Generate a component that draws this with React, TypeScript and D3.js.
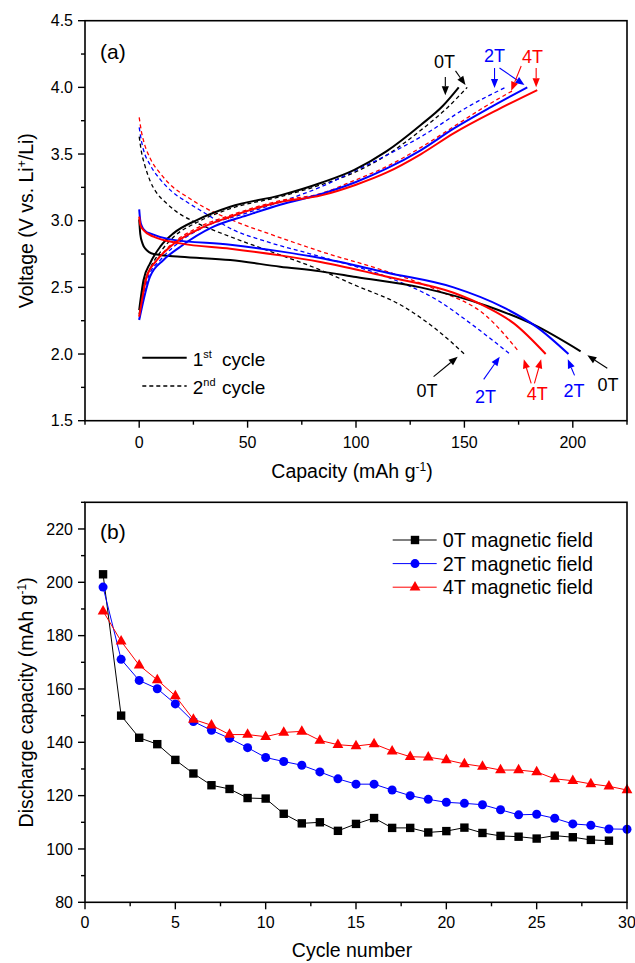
import React from 'react';
import * as d3 from 'd3';

type Pt = [number, number];

// ---- panel (a): capacity (mAh/g) vs voltage (V) ----
// 1st cycle (solid)
const charge0T1: Pt[] = [[0, 2.33], [2, 2.555], [5, 2.68], [9.7, 2.805], [15.8, 2.905], [26.6, 3.005], [42, 3.105], [65, 3.19], [84, 3.285], [99, 3.38], [114, 3.52], [130, 3.72], [140, 3.86], [147.4, 4.0]];
const charge2T1: Pt[] = [[0, 2.255], [5, 2.58], [11.2, 2.705], [19, 2.805], [34.3, 2.955], [49.7, 3.04], [65, 3.12], [84, 3.2], [100, 3.29], [114, 3.39], [130, 3.53], [145, 3.69], [162, 3.85], [179, 4.0]];
const charge4T1: Pt[] = [[0, 2.28], [3.5, 2.58], [8.2, 2.705], [14.3, 2.805], [26.6, 2.93], [42, 3.03], [65, 3.14], [84, 3.19], [100, 3.27], [114, 3.36], [130, 3.5], [145, 3.655], [165, 3.83], [183.6, 3.98]];
const discharge0T1: Pt[] = [[0, 3.01], [0.5, 2.9], [1.5, 2.83], [2.8, 2.79], [6.6, 2.75], [19, 2.73], [42, 2.705], [65, 2.655], [83.6, 2.62], [100, 2.577], [129.7, 2.5], [160.5, 2.36], [182, 2.22], [203.6, 2.02]];
const discharge2T1: Pt[] = [[0, 3.085], [0.5, 3.0], [1.2, 2.96], [3, 2.92], [5, 2.905], [14.3, 2.86], [42, 2.82], [65, 2.77], [83.6, 2.72], [114.4, 2.61], [145, 2.5], [168, 2.35], [183.6, 2.2], [198, 2.0]];
const discharge4T1: Pt[] = [[0, 3.03], [0.5, 2.97], [2, 2.93], [6.6, 2.88], [19, 2.83], [42, 2.79], [65, 2.74], [83.6, 2.69], [114.4, 2.58], [145, 2.46], [160.5, 2.35], [172.8, 2.23], [187.5, 2.0]];
// 2nd cycle (dashed)
const charge0T2: Pt[] = [[0, 2.3], [2, 2.5], [5, 2.64], [10, 2.77], [16, 2.88], [27, 2.99], [42, 3.09], [65, 3.18], [84, 3.27], [99, 3.36], [114, 3.49], [130, 3.68], [141, 3.83], [151.3, 4.0]];
const charge2T2: Pt[] = [[0, 2.26], [4, 2.57], [10, 2.71], [17, 2.82], [31, 2.96], [48, 3.05], [65, 3.14], [84, 3.255], [99, 3.37], [114, 3.49], [130, 3.63], [153, 3.867], [169, 4.0]];
const charge4T2: Pt[] = [[0, 2.28], [3, 2.57], [8, 2.7], [14, 2.81], [26, 2.94], [42, 3.04], [65, 3.15], [84, 3.205], [99, 3.3], [114, 3.405], [130, 3.55], [145, 3.705], [160, 3.86], [172.8, 3.98]];
const discharge0T2: Pt[] = [[0, 3.63], [1, 3.52], [2.5, 3.42], [5, 3.3], [8, 3.21], [12, 3.14], [17, 3.07], [27, 2.98], [42, 2.88], [57, 2.79], [83.6, 2.63], [99, 2.52], [122, 2.355], [137.4, 2.18], [150, 2.0]];
const discharge2T2: Pt[] = [[0, 3.7], [1, 3.6], [2, 3.53], [5, 3.42], [9.7, 3.31], [15, 3.22], [22, 3.14], [30, 3.06], [43.5, 2.93], [57.4, 2.85], [83.6, 2.73], [114, 2.58], [137.4, 2.405], [152.8, 2.23], [171, 2.0]];
const discharge4T2: Pt[] = [[0, 3.775], [1, 3.67], [2, 3.6], [5, 3.47], [9.7, 3.355], [15, 3.26], [22, 3.18], [30, 3.1], [43.5, 3.0], [62, 2.89], [83.6, 2.77], [114, 2.62], [137.4, 2.48], [160.5, 2.28], [175, 2.02]];

const capTicks = [0, 50, 100, 150, 200];
const voltTicks = [1.5, 2.0, 2.5, 3.0, 3.5, 4.0, 4.5];

// annotation labels: [text, colour, capacity, voltage(baseline)], arrows: [colour, cap1, v1, cap2, v2]
const labelsA: [string, string, number, number][] = [
  ['0T', 'black', 140.8, 4.142], ['2T', 'blue', 163.9, 4.19], ['4T', 'red', 181.4, 4.18],
  ['0T', 'black', 132.8, 1.68], ['2T', 'blue', 159.7, 1.63], ['4T', 'red', 183.6, 1.656],
  ['2T', 'blue', 200.5, 1.68], ['0T', 'black', 216.2, 1.72],
];
const arrowsA: [string, number, number, number, number][] = [
  ['black', 141.2, 4.077, 141.2, 3.94], ['black', 145.9, 4.124, 150.5, 4.017],
  ['blue', 163.9, 4.145, 163.9, 3.995], ['blue', 166.2, 4.145, 177.7, 4.017],
  ['red', 176.2, 4.16, 171.6, 3.975], ['red', 183.1, 4.145, 183.1, 4.0],
  ['black', 135.8, 1.83, 146.9, 1.98], ['blue', 158.9, 1.81, 166.3, 1.98],
  ['red', 180.8, 1.78, 177.4, 1.96], ['red', 182.3, 1.78, 185.4, 1.96],
  ['blue', 200.8, 1.84, 197.7, 1.96], ['black', 215.9, 1.894, 206.7, 1.99],
];

// ---- panel (b): discharge capacity vs cycle number ----
const cycles = d3.range(1, 31);
const cap0T = [203, 150, 141.7, 139.3, 133.4, 128.3, 123.9, 122.5, 119.1, 118.9, 113.2, 109.6, 110, 106.8, 109.4, 111.6, 107.9, 107.9, 106.2, 106.7, 108, 106, 104.9, 104.6, 103.9, 105, 104.4, 103.4, 103.1];
const cap2T = [198.2, 171.1, 163.2, 160.1, 154.4, 147.8, 144.5, 141.5, 138, 134.3, 132.8, 131.4, 128.9, 126.3, 124.3, 124.3, 122.1, 120, 118.6, 117.5, 117.1, 116.6, 114.7, 112.8, 113, 111.5, 109.4, 108.9, 107.5, 107.4];
const cap4T = [189.2, 177.9, 168.9, 163.4, 157.4, 148.6, 146.4, 142.9, 142.9, 142.1, 143.7, 144.1, 140.7, 139.1, 138.6, 139.4, 136.7, 134.6, 134.4, 133.4, 131.9, 130.9, 129.6, 129.6, 128.9, 126.3, 125.6, 124.4, 123.5, 122.1];
const seriesNames = ['0T magnetic field', '2T magnetic field', '4T magnetic field'];
const cycleTicks = [0, 5, 10, 15, 20, 25, 30];
const dischargeTicks = [80, 100, 120, 140, 160, 180, 200, 220];

const FONT = '"Liberation Sans", Arial, Helvetica, sans-serif';

function Axes({ x, y, xMajor, xMinor, yMajor, yMinor, yFmt, labelDy }: any) {
  const [x0, x1] = x.range();
  const [y0, y1] = y.range();
  return (
    <g fontFamily={FONT}>
      <rect x={x0} y={y1} width={x1 - x0} height={y0 - y1} fill="none" stroke="#000" strokeWidth={1.6} />
      {xMajor.map((t: number) => (
        <g key={'xm' + t}>
          <line x1={x(t)} x2={x(t)} y1={y0} y2={y0 + 7} stroke="#000" strokeWidth={1.4} />
          <text x={x(t)} y={y0 + labelDy} textAnchor="middle" fontSize={16}>{t}</text>
        </g>
      ))}
      {xMinor.map((t: number) => (
        <line key={'xn' + t} x1={x(t)} x2={x(t)} y1={y0} y2={y0 + 4} stroke="#000" strokeWidth={1.4} />
      ))}
      {yMajor.map((t: number) => (
        <g key={'ym' + t}>
          <line x1={x0 - 7} x2={x0} y1={y(t)} y2={y(t)} stroke="#000" strokeWidth={1.4} />
          <text x={x0 - 12} y={y(t) + 5.6} textAnchor="end" fontSize={16}>{yFmt(t)}</text>
        </g>
      ))}
      {yMinor.map((t: number) => (
        <line key={'yn' + t} x1={x0 - 4} x2={x0} y1={y(t)} y2={y(t)} stroke="#000" strokeWidth={1.4} />
      ))}
    </g>
  );
}

function Arrow({ x1, y1, x2, y2, color }: any) {
  const dx = x2 - x1, dy = y2 - y1;
  const len = Math.hypot(dx, dy);
  const ux = dx / len, uy = dy / len;
  const hl = 9, hw = 3.6;
  const bx = x2 - ux * hl, by = y2 - uy * hl;
  const pts = [[x2, y2], [bx - uy * hw, by + ux * hw], [bx + uy * hw, by - ux * hw]];
  return (
    <g>
      <line x1={x1} y1={y1} x2={bx} y2={by} stroke={color} strokeWidth={1.1} />
      <polygon points={pts.map(p => p.join(',')).join(' ')} fill={color} />
    </g>
  );
}

export default function App() {
  const xA = d3.scaleLinear().domain([-25, 225]).range([85, 627]);
  const yA = d3.scaleLinear().domain([1.5, 4.5]).range([420.7, 20.7]);
  const xB = d3.scaleLinear().domain([0, 30]).range([85, 627]);
  const yB = d3.scaleLinear().domain([80, 230]).range([902.3, 502.3]);

  const lineA = d3.line<Pt>().x(d => xA(d[0])).y(d => yA(d[1])).curve(d3.curveMonotoneX);
  const lineB = d3.line<[number, number]>().x(d => xB(d[0])).y(d => yB(d[1]));

  const curvesA = [
    { d: charge0T2, c: '#000', dash: true }, { d: discharge0T2, c: '#000', dash: true },
    { d: charge2T2, c: '#0000ff', dash: true }, { d: discharge2T2, c: '#0000ff', dash: true },
    { d: charge4T2, c: '#ff0000', dash: true }, { d: discharge4T2, c: '#ff0000', dash: true },
    { d: charge0T1, c: '#000', dash: false }, { d: discharge0T1, c: '#000', dash: false },
    { d: charge2T1, c: '#0000ff', dash: false }, { d: discharge2T1, c: '#0000ff', dash: false },
    { d: charge4T1, c: '#ff0000', dash: false }, { d: discharge4T1, c: '#ff0000', dash: false },
  ];
  const colorOf: any = { black: '#000', blue: '#0000ff', red: '#ff0000' };

  const seriesB = [
    { v: cap0T, c: '#000', m: 'square' },
    { v: cap2T, c: '#0000ff', m: 'circle' },
    { v: cap4T, c: '#ff0000', m: 'triangle' },
  ];
  const marker = (m: string, cx: number, cy: number, c: string, k: string) => {
    if (m === 'square') return <rect key={k} x={cx - 4.2} y={cy - 4.2} width={8.4} height={8.4} fill={c} />;
    if (m === 'circle') return <circle key={k} cx={cx} cy={cy} r={4.5} fill={c} />;
    return <polygon key={k} points={`${cx},${cy - 6.2} ${cx - 5.4},${cy + 3.3} ${cx + 5.4},${cy + 3.3}`} fill={c} />;
  };

  const minorRange = (a: number, b: number, s: number, major: number[]) =>
    d3.range(a, b + s / 2, s).filter(t => !major.some(m => Math.abs(m - t) < 1e-6));

  return (
    <svg width={635} height={963} style={{ position: 'absolute', left: 0, top: 0, background: '#fff' }} fontFamily={FONT}>
      {/* ---------- panel (a) ---------- */}
      <g>
        {curvesA.map((s, i) => (
          <path key={i} d={lineA(s.d) || ''} fill="none" stroke={s.c}
            strokeWidth={s.dash ? 1.3 : 2} strokeDasharray={s.dash ? '4,3' : undefined} />
        ))}
        <Axes x={xA} y={yA} xMajor={capTicks} xMinor={minorRange(-25, 225, 25, capTicks)}
          yMajor={voltTicks} yMinor={minorRange(1.75, 4.25, 0.5, voltTicks)}
          yFmt={d3.format('.1f')} labelDy={27.5} />
        <text x={100} y={59} fontSize={21}>(a)</text>
        {arrowsA.map((a, i) => (
          <Arrow key={i} x1={xA(a[1])} y1={yA(a[2])} x2={xA(a[3])} y2={yA(a[4])} color={colorOf[a[0]]} />
        ))}
        {labelsA.map((l, i) => (
          <text key={i} x={xA(l[2])} y={yA(l[3])} textAnchor="middle" fontSize={18} fill={colorOf[l[1]]}>{l[0]}</text>
        ))}
        {/* legend */}
        <line x1={142.3} x2={186.7} y1={357.7} y2={357.7} stroke="#000" strokeWidth={2} />
        <text x={192.7} y={365.5} fontSize={19}>1<tspan dy={-8} fontSize={11}>st</tspan><tspan x={222} dy={8}>cycle</tspan></text>
        <line x1={142.3} x2={186.7} y1={386} y2={386} stroke="#000" strokeWidth={1.3} strokeDasharray="4,3" />
        <text x={192.7} y={393.5} fontSize={19}>2<tspan dy={-8} fontSize={11}>nd</tspan><tspan x={222} dy={8}>cycle</tspan></text>
        {/* axis titles */}
        <text x={352} y={478} textAnchor="middle" fontSize={19.5}>
          Capacity (mAh g<tspan dy={-7} fontSize={12}>-1</tspan><tspan dy={7}>)</tspan>
        </text>
        <text transform={`translate(33,${(20.7 + 420.7) / 2}) rotate(-90)`} textAnchor="middle" fontSize={19.5}>
          Voltage (V vs. Li<tspan dy={-7} fontSize={12}>+</tspan><tspan dy={7}>/Li)</tspan>
        </text>
      </g>

      {/* ---------- panel (b) ---------- */}
      <g>
        {seriesB.map((s, si) => {
          const pts = s.v.map((v, i) => [cycles[i], v] as [number, number]);
          return (
            <g key={si}>
              <path d={lineB(pts) || ''} fill="none" stroke={s.c} strokeWidth={1} />
              {pts.map((p, i) => marker(s.m, xB(p[0]), yB(p[1]), s.c, si + '-' + i))}
            </g>
          );
        })}
        <Axes x={xB} y={yB} xMajor={cycleTicks} xMinor={minorRange(2.5, 27.5, 5, [])}
          yMajor={dischargeTicks} yMinor={minorRange(90, 230, 20, [])}
          yFmt={d3.format('d')} labelDy={26} />
        <text x={100} y={539} fontSize={21}>(b)</text>
        {/* legend */}
        {seriesB.map((s, i) => {
          const ly = 540 + i * 23.6;
          return (
            <g key={'lg' + i}>
              <line x1={392.7} x2={436.7} y1={ly} y2={ly} stroke={s.c} strokeWidth={1} />
              {marker(s.m, 415, ly, s.c, 'lm' + i)}
              <text x={442.7} y={ly + 6.9} fontSize={19.8}>{seriesNames[i]}</text>
            </g>
          );
        })}
        <text x={352} y={956.5} textAnchor="middle" fontSize={19.5}>Cycle number</text>
        <text transform={`translate(33,${(502.3 + 902.3) / 2}) rotate(-90)`} textAnchor="middle" fontSize={19.5}>
          Discharge capacity (mAh g<tspan dy={-7} fontSize={12}>-1</tspan><tspan dy={7}>)</tspan>
        </text>
      </g>
    </svg>
  );
}
